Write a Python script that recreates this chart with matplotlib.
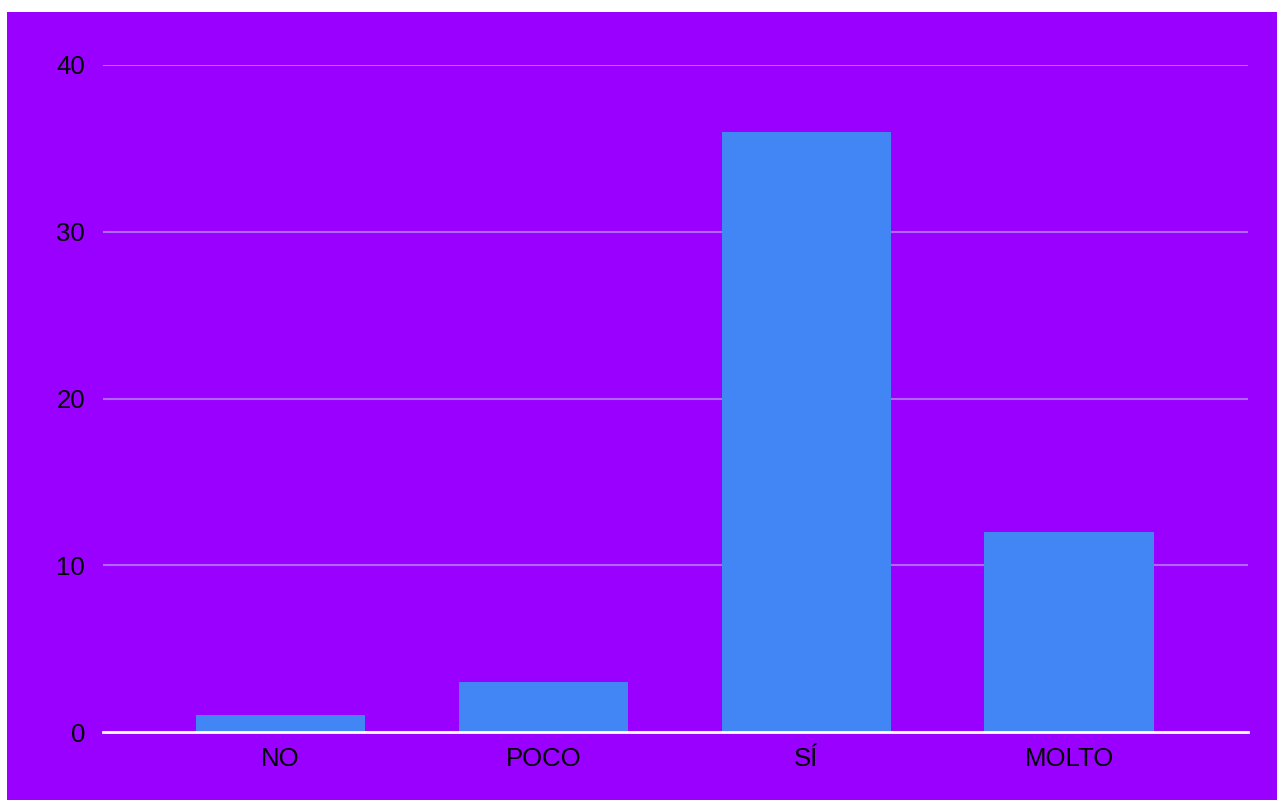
import matplotlib.pyplot as plt
from matplotlib.patches import Rectangle

# Data
categories = ["NO", "POCO", "SÍ", "MOLTO"]
values = [1, 3, 36, 12]
y_ticks = [0, 10, 20, 30, 40]

purple = "#9900ff"
bar_color = "#4285f4"
grid_color = "#b366ff"

plt.rcParams['font.family'] = ['Liberation Sans', 'DejaVu Sans']

fig = plt.figure(figsize=(12.77, 8), dpi=100, facecolor="white")
fig.patches.append(Rectangle((7 / 1277, 0), 1 - 7 / 1277, 1 - 12 / 800,
                             transform=fig.transFigure, facecolor=purple,
                             edgecolor="none", zorder=-10))

ax = fig.add_axes([103 / 1277, 68 / 800, (1248 - 103) / 1277, (732 - 65) / 800])
ax.set_facecolor("none")

x = range(len(categories))
ax.bar(x, values, width=0.645, color=bar_color, zorder=2)

ax.set_xlim(-0.675, 3.68)
ax.set_ylim(0, 40)
ax.set_yticks(y_ticks)
ax.set_xticks(list(x))
ax.set_xticklabels(categories)

ax.yaxis.grid(True, color=grid_color, linewidth=1.5, zorder=0)
ax.set_axisbelow(True)
for s in ["top", "right", "left"]:
    ax.spines[s].set_visible(False)
ax.spines["bottom"].set_color("white")
ax.spines["bottom"].set_linewidth(2)
ax.spines["bottom"].set_zorder(3)

ax.tick_params(axis="both", length=0, labelsize=18.5, colors="black")
ax.tick_params(axis="y", pad=13)
ax.tick_params(axis="x", pad=11)

plt.savefig("out.png", dpi=100, facecolor=fig.get_facecolor())
